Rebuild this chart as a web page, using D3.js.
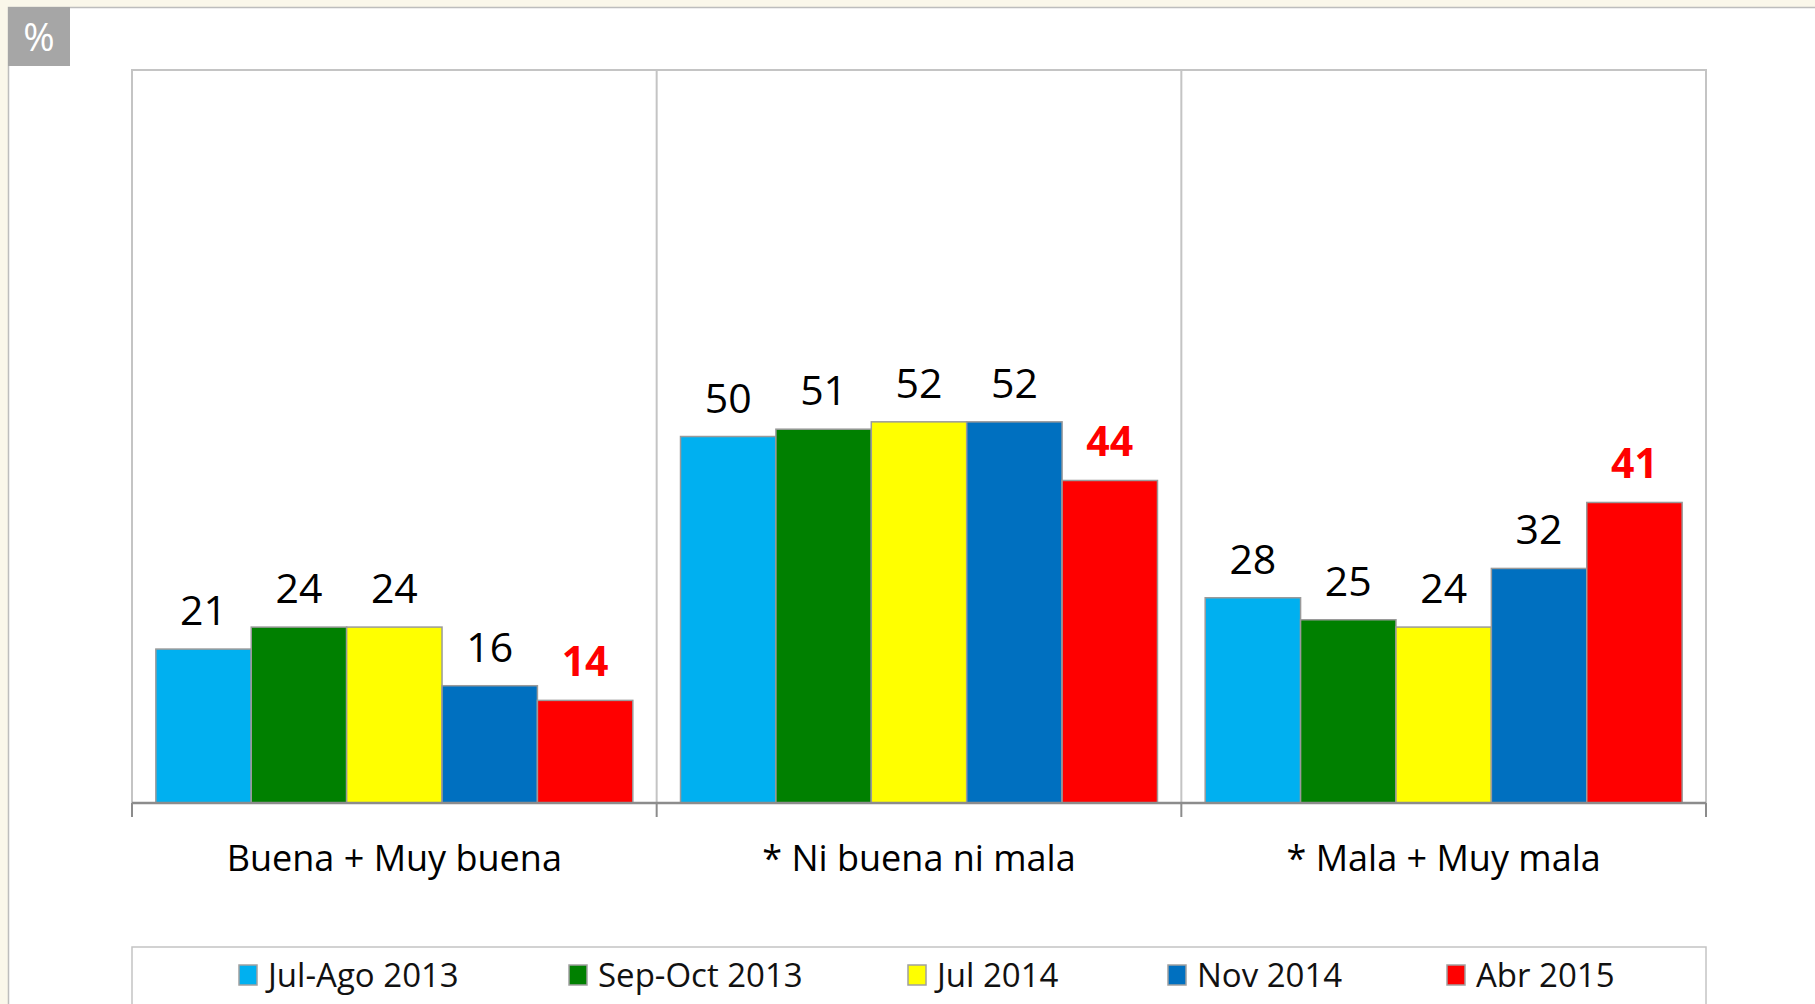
<!DOCTYPE html>
<html>
<head>
<meta charset="utf-8">
<script src="https://cdn.jsdelivr.net/npm/d3@7"></script>
<style>
  html, body { margin: 0; padding: 0; background: #faf7ea; }
  svg { display: block; font-family: "Open Sans", "Noto Sans", sans-serif; }
</style>
</head>
<body>
<div id="chart"></div>
<script>
const categories = ['Buena + Muy buena', '* Ni buena ni mala', '* Mala + Muy mala'];
const series = ['Jul-Ago 2013', 'Sep-Oct 2013', 'Jul 2014', 'Nov 2014', 'Abr 2015'];
const julAgo2013 = [21, 50, 28];
const sepOct2013 = [24, 51, 25];
const jul2014 = [24, 52, 24];
const nov2014 = [16, 52, 32];
const abr2015 = [14, 44, 41];
const colors = ['#00b0f0', '#008000', '#ffff00', '#0070c0', '#ff0000'];

const values = [julAgo2013, sepOct2013, jul2014, nov2014, abr2015];
const data = categories.map((c, i) => ({
  cat: c,
  vals: series.map((s, j) => ({ s: s, j: j, v: values[j][i] }))
}));

const W = 1815, H = 1004;
const svg = d3.select('#chart').append('svg').attr('width', W).attr('height', H);

// white panel with gray top/left edge
svg.append('rect').attr('x', 8).attr('y', 7).attr('width', W - 8).attr('height', H - 7).attr('fill', '#fff');
svg.append('path').attr('d', `M8.5,${H} V7.5 H${W}`).attr('fill', 'none').attr('stroke', '#bdbdbd').attr('stroke-width', 1.5);

// % badge
svg.append('rect').attr('x', 8).attr('y', 7).attr('width', 62).attr('height', 59).attr('fill', '#a6a6a6');
svg.append('text').attr('x', 39).attr('y', 51).attr('text-anchor', 'middle')
  .attr('fill', '#fff').attr('font-size', 38).text('%');

const plot = { left: 132, right: 1706, top: 70, bottom: 803 };

const x0 = d3.scaleBand().domain(categories).range([plot.left, plot.right]).padding(0);
const x1 = d3.scaleBand().domain(series).range([0, x0.bandwidth()]).paddingInner(0).paddingOuter(0.25);
const y = d3.scaleLinear().domain([0, 100]).range([plot.bottom, plot.top]);

// plot frame + category separators
svg.append('rect').attr('x', plot.left).attr('y', plot.top)
  .attr('width', plot.right - plot.left).attr('height', plot.bottom - plot.top)
  .attr('fill', 'none').attr('stroke', '#c4c4c4').attr('stroke-width', 2);
svg.selectAll('.sep').data(categories.slice(1)).enter().append('line')
  .attr('x1', d => x0(d)).attr('x2', d => x0(d))
  .attr('y1', plot.top).attr('y2', plot.bottom)
  .attr('stroke', '#c4c4c4').attr('stroke-width', 2);

const groups = svg.selectAll('.grp').data(data).enter().append('g')
  .attr('transform', d => `translate(${x0(d.cat)},0)`);

groups.selectAll('rect').data(d => d.vals).enter().append('rect')
  .attr('x', d => x1(d.s))
  .attr('y', d => y(d.v))
  .attr('width', x1.bandwidth())
  .attr('height', d => y(0) - y(d.v))
  .attr('fill', d => colors[d.j])
  .attr('stroke', '#9a9a9a').attr('stroke-width', 1.5);

groups.selectAll('.lbl').data(d => d.vals).enter().append('text')
  .attr('x', d => x1(d.s) + x1.bandwidth() / 2)
  .attr('y', d => y(d.v) - 24)
  .attr('text-anchor', 'middle')
  .attr('font-size', 41)
  .attr('font-weight', d => d.j === 4 ? 700 : 400)
  .attr('fill', d => d.j === 4 ? '#ff0000' : '#000')
  .text(d => d.v);

// x axis
const xAxis = svg.append('g').attr('transform', `translate(0,${plot.bottom})`);
xAxis.append('line').attr('x1', plot.left).attr('x2', plot.right)
  .attr('stroke', '#8c8c8c').attr('stroke-width', 2.5);
xAxis.selectAll('.tk').data(categories.concat(['end'])).enter().append('line')
  .attr('x1', (d, i) => i < categories.length ? x0(d) : plot.right)
  .attr('x2', (d, i) => i < categories.length ? x0(d) : plot.right)
  .attr('y1', 0).attr('y2', 14)
  .attr('stroke', '#8c8c8c').attr('stroke-width', 2);
xAxis.selectAll('.cl').data(categories).enter().append('text')
  .attr('x', d => x0(d) + x0.bandwidth() / 2)
  .attr('y', 68)
  .attr('text-anchor', 'middle')
  .attr('font-size', 36)
  .attr('fill', '#000')
  .text(d => d);

// legend
const legendX = [248, 578, 917, 1177, 1456];
const lg = svg.append('g');
lg.append('rect').attr('x', plot.left).attr('y', 947)
  .attr('width', plot.right - plot.left).attr('height', 80)
  .attr('fill', '#fff').attr('stroke', '#c4c4c4').attr('stroke-width', 1.5);
const items = lg.selectAll('.li').data(series).enter().append('g')
  .attr('transform', (d, i) => `translate(${legendX[i]},975)`);
items.append('rect').attr('x', -9).attr('y', -10).attr('width', 18).attr('height', 20)
  .attr('fill', (d, i) => colors[i]).attr('stroke', '#a0a0a0').attr('stroke-width', 1.5);
items.append('text').attr('x', 20).attr('y', 12)
  .attr('font-size', 33).attr('fill', '#111').text(d => d);
</script>
</body>
</html>
